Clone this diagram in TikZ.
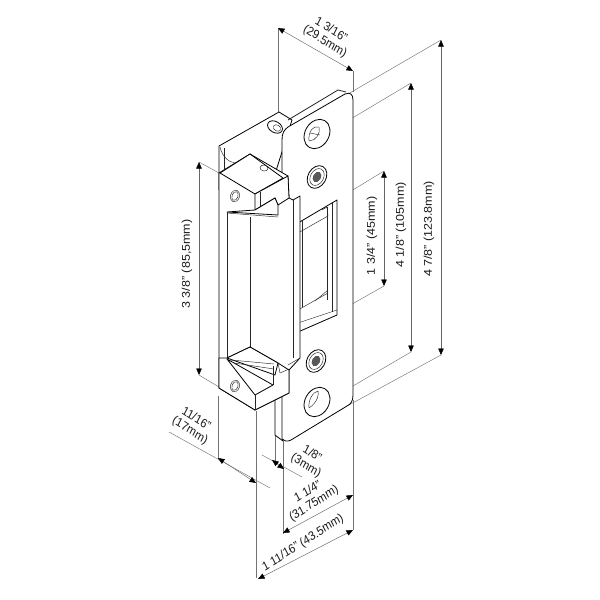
\documentclass[tikz,border=0pt]{standalone}
\usepackage{fontspec}
\setmainfont{Liberation Sans}
\usetikzlibrary{arrows.meta}

\begin{document}
\begin{tikzpicture}[
    x=1pt, y=-1pt,
    outline/.style={draw=black, line width=0.8pt, line join=round, fill=white},
    detail/.style={draw=black!85, line width=0.45pt},
    ext/.style={draw=black!55, line width=0.45pt},
    dim/.style={draw=black!60, line width=0.45pt, {Triangle[length=6.5pt,width=5.5pt,black]}-{Triangle[length=6.5pt,width=5.5pt,black]}},
    lbl/.style={font=\fontsize{12.5}{13.5}\selectfont, align=center, inner sep=0pt, xscale=0.9, text=black!90}
]
\useasboundingbox (0,0) rectangle (600,600);

% Dimension end points
\coordinate (widthA) at (278,28);
\coordinate (widthB) at (353,71);
\coordinate (totalT) at (441,40);
\coordinate (totalB) at (441,355);
\coordinate (holesT) at (411,83);
\coordinate (holesB) at (411,352);
\coordinate (slotT) at (384,171);
\coordinate (slotB) at (384,286);
\coordinate (bodyT) at (199,162);
\coordinate (bodyB) at (199,375);
\coordinate (depthA) at (218,458);
\coordinate (depthB) at (256,483);
\coordinate (gapA) at (272,460);
\coordinate (gapB) at (284,469);
\coordinate (lipA) at (283,533);
\coordinate (lipB) at (353,495);
\coordinate (fullA) at (258,579);
\coordinate (fullB) at (353,530);

% Extension lines
\draw[ext] (278,28) -- (278,112);
\draw[ext] (353,71) -- (353,92);
\draw[ext] (441,40) -- (348,94);
\draw[ext] (441,355) -- (349,405);
\draw[ext] (411,83) -- (329,132);
\draw[ext] (411,352) -- (329,400);
\draw[ext] (384,171) -- (338,199);
\draw[ext] (384,286) -- (338,312);
\draw[ext] (199,162) -- (219,173);
\draw[ext] (199,375) -- (219,387);
\draw[ext] (218,396) -- (218,458);
\draw[ext] (256,411) -- (256,578);
\draw[ext] (275,436) -- (275,462);
\draw[ext] (283,441) -- (283,534);
\draw[ext] (353,400) -- (353,530);
\draw[ext] (169,432) -- (270,488);
\draw[ext] (262,455) -- (302,477);

% Dimension lines
\draw[dim] (widthA) -- (widthB);
\draw[dim] (totalT) -- (totalB);
\draw[dim] (holesT) -- (holesB);
\draw[dim] (slotT) -- (slotB);
\draw[dim] (bodyT) -- (bodyB);
\draw[dim] (depthA) -- (depthB);
\draw[dim] (gapA) -- (gapB);
\draw[dim] (lipA) -- (lipB);
\draw[dim] (fullA) -- (fullB);

% Labels
\node[lbl, rotate=-30] (width) at (328,36) {1 3/16"\\(29.5mm)};
\node[lbl, rotate=90] (total) at (429,229) {4 7/8" (123.8mm)};
\node[lbl, rotate=90] (holes) at (401,225) {4 1/8" (105mm)};
\node[lbl, rotate=90] (slot) at (372,236) {1 3/4" (45mm)};
\node[lbl, rotate=90] (body) at (187,264) {3 3/8" (85,5mm)};
\node[lbl, rotate=-30] (depth) at (193,425) {11/16"\\(17mm)};
\node[lbl, rotate=-30] (gap) at (309,460) {1/8"\\(3mm)};
\node[lbl, rotate=30] (lip) at (311,498) {1 1/4"\\(31.75mm)};
\node[lbl, rotate=30] (full) at (303,543) {1 11/16" (43.5mm)};

% Plate side and ears
\draw[outline] (275,130) -- (275,435) -- (283,441) -- (290,300) -- (290,130) -- cycle;
\draw[outline] (219,146) -- (279,112) -- (292,120) -- (270,190) -- (219,190) -- cycle;
\draw[outline, rotate around={-30:(275,127)}] (275,127) ellipse (8 and 5.5);
\draw[detail, rotate around={-30:(277,128)}] (277,128) ellipse (4 and 3);

% Plate
\draw[outline] (282,140) .. controls (282,133) and (284,130) .. (288,127)
    -- (345,94) .. controls (350,92) and (353,94) .. (353,100)
    -- (353,395) .. controls (353,401) and (351,404) .. (347,406)
    -- (291,440) .. controls (287,442) and (284,441) .. (282,439) -- cycle;
\draw[detail, line width=0.8pt] (288,120) -- (338,90) -- (346,92);

% Holes
\draw[outline, rotate around={-30:(317,134)}] (317,134) ellipse (12 and 15.5);
\draw[detail] (309,141) .. controls (308,132) and (313,125) .. (319,127) .. controls (321,133) and (316,141) .. (309,141);
\draw[detail] (310,133) -- (320,135);
\draw[outline, rotate around={-30:(317,402)}] (317,402) ellipse (12 and 15.5);
\draw[detail] (309,408) .. controls (308,400) and (313,392) .. (318,391) .. controls (319,394) and (318,402) .. (309,408);

% Screws
\draw[outline, rotate around={-30:(317,177)}] (317,177) ellipse (9 and 12);
\draw[detail, rotate around={-30:(317,177)}] (317,177) ellipse (6.5 and 9);
\fill[black!65, rotate around={-30:(317,177)}] (317,177) ellipse (4 and 5.5);
\draw[outline, rotate around={-30:(316,361)}] (316,361) ellipse (9 and 12);
\draw[detail, rotate around={-30:(316,361)}] (316,361) ellipse (6.5 and 9);
\fill[black!65, rotate around={-30:(316,361)}] (316,361) ellipse (4 and 5.5);

% Strike opening
\draw[outline] (337,200) -- (298,223) -- (298,332) -- (337,315) -- cycle;
\draw[detail] (327,207) -- (327,300);
\draw[detail] (332,203) -- (332,312);
\draw[detail] (302,221) -- (302,307);
\draw[detail] (298,233) -- (328,216);
\draw[detail] (322,210) -- (327,207) -- (328,216);
\draw[detail] (298,310) -- (328,293);
\draw[detail] (298,323) -- (337,310);
\draw[detail] (315,301) -- (328,290);

% Keeper body
\draw[outline] (219,173) -- (219,388) -- (255,410) -- (289,393) -- (289,370)
    -- (300,358) -- (300,196) -- (293,200) -- (289,198) -- (288,176) -- (250,154) -- cycle;
\draw[detail] (293,200) -- (293,358);
\draw[detail] (300,358) -- (288,365);
\draw[detail] (227,212) -- (227,358);
\draw[detail] (250,217) -- (250,347);
\draw[detail] (224,148) -- (224,172);
\draw[detail] (220,147) .. controls (222,156) and (228,162) .. (235,163);

% Top block
\draw[outline] (220,173) -- (250,154) -- (283,178) -- (255,194) -- cycle;
\draw[outline] (255,194) -- (288,176) -- (289,198) -- (278,205) -- (275,198) -- (255,210) -- cycle;
\draw[detail] (260,192) -- (260,207);
\draw[outline] (227,212) -- (255,210) -- (275,198) -- (278,205) -- (278,215) -- cycle;
\draw[detail] (227,213) -- (278,217);
\draw[detail, rotate around={-20:(235,196)}] (235,196) ellipse (4.5 and 6);
\draw[detail, rotate around={-20:(235,196)}] (235,196) ellipse (3 and 4.5);
\draw[detail, rotate around={-10:(264,168)}] (264,168) ellipse (4 and 3);

% Bottom block
\draw[outline] (227,358) -- (250,347) -- (278,363) -- (289,370) -- (289,393) -- (255,410) -- (219,388) -- (219,358) -- cycle;
\draw[outline] (227,358) -- (250,347) -- (278,363) -- (275,375) -- cycle;
\draw[detail] (231,360) -- (274,364);
\draw[detail] (234,363) -- (274,369);
\draw[outline] (227,359) -- (273,385) -- (255,395) -- cycle;
\draw[detail] (255,395) -- (255,410);
\draw[detail] (273,385) -- (273,366);
\draw[detail] (280,373) -- (289,369);
\draw[detail] (280,373) -- (278,363);
\draw[detail, rotate around={-20:(235,386)}] (235,386) ellipse (4.5 and 6);
\draw[detail, rotate around={-20:(235,386)}] (235,386) ellipse (3 and 4.5);
\end{tikzpicture}
\end{document}
